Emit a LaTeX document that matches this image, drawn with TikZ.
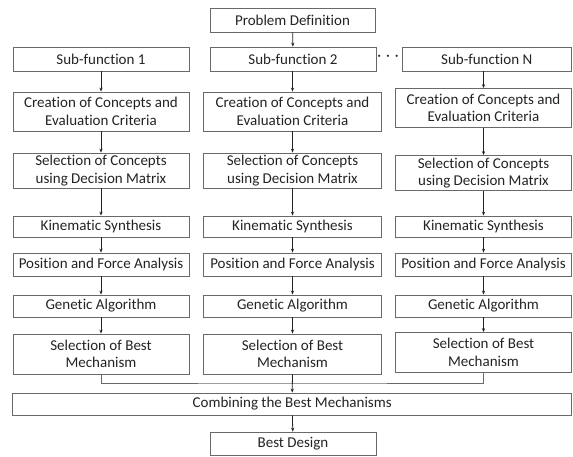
\documentclass[tikz,border=0pt]{standalone}
\usepackage{fontspec}
\setmainfont[Ligatures=NoCommon]{Carlito}
\usetikzlibrary{arrows.meta,positioning}
\definecolor{edgecol}{RGB}{105,105,105}
\definecolor{inkcol}{RGB}{35,35,35}

\begin{document}
\begin{tikzpicture}[x=1pt,y=-1pt,>={Stealth[length=4pt,width=3.2pt]},
    font=\fontsize{15}{17.5}\selectfont,text=inkcol,
    blk/.style={draw=edgecol,line width=0.8pt,inner sep=0pt,align=center},
    flow/.style={->,line width=0.8pt,inkcol}]
  \useasboundingbox (0,0) rectangle (573,457);
  % problem and the sub-functions
  \node[blk,minimum width=165pt,minimum height=24pt] (prob) at (292.5,20) {Problem Definition};
  \node[blk,minimum width=176pt,minimum height=24pt] (sub1) at (101,59) {Sub-function 1};
  \node[blk,minimum width=166pt,minimum height=24pt] (sub2) at (293,59) {Sub-function 2};
  \node[blk,minimum width=169.5pt,minimum height=24pt] (sub3) at (486.75,59) {Sub-function N};
  \node (dots) at (388,58) {·\hspace{5pt}·\hspace{5pt}·};
  \draw[flow] (prob) -- (sub2);
  % one column of steps per sub-function (centre x, width, y of the shifted rows)
  \foreach \c/\x/\w/\yc/\ys/\yb in {1/101/176/111.5/170.5/354,
                                    2/292.5/178/111.5/170.5/354,
                                    3/483.5/176/108/173/352.5} {
    \node[blk,minimum width=\w pt,minimum height=39pt] (cre\c) at (\x,\yc) {Creation of Concepts and\\Evaluation Criteria};
    \node[blk,minimum width=\w pt,minimum height=35pt] (sel\c) at (\x,\ys) {Selection of Concepts\\using Decision Matrix};
    \node[blk,minimum width=\w pt,minimum height=21pt] (kin\c) at (\x,226.5) {Kinematic Synthesis};
    \node[blk,minimum width=\w pt,minimum height=23pt] (pos\c) at (\x,264.5) {Position and Force Analysis};
    \node[blk,minimum width=\w pt,minimum height=22pt] (gen\c) at (\x,306) {Genetic Algorithm};
    \node[blk,minimum width=\w pt,minimum height=40pt] (best\c) at (\x,\yb) {Selection of Best\\Mechanism};
    \draw[flow] (sub\c.south -| cre\c.north) -- (cre\c.north);
    \draw[flow] (cre\c) -- (sel\c);
    \draw[flow] (sel\c) -- (kin\c);
    \draw[flow] (kin\c) -- (pos\c);
    \draw[flow] (pos\c) -- (gen\c);
    \draw[flow] (gen\c) -- (best\c);
  }
  % joining the three columns
  \node[blk,minimum width=559pt,minimum height=22pt] (comb) at (292.2,404) {Combining the Best Mechanisms};
  \node[blk,minimum width=166pt,minimum height=23pt] (final) at (293,443.5) {Best Design};
  \coordinate (mrg) at (292.5,383);
  \draw[line width=0.8pt,edgecol] (best1.south) |- (mrg) -| (best3.south);
  \draw[flow] (best2.south) -- (comb.north);
  \draw[flow] (comb) -- (final);
\end{tikzpicture}
\end{document}
